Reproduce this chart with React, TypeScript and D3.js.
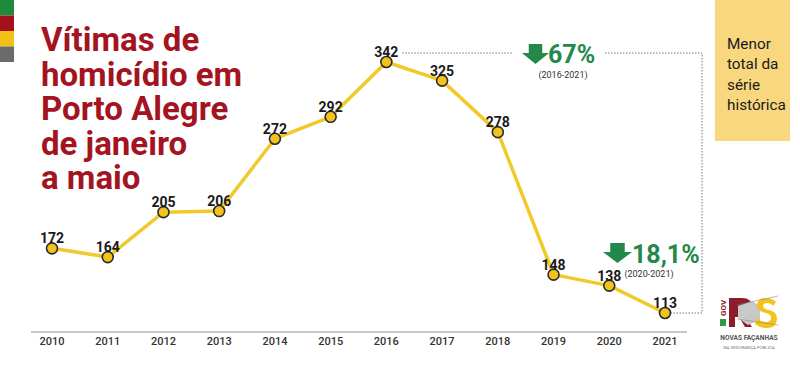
import * as d3 from "d3";

// data
const years = ["2010", "2011", "2012", "2013", "2014", "2015", "2016", "2017", "2018", "2019", "2020", "2021"];
const victims = [172, 164, 205, 206, 272, 292, 342, 325, 278, 148, 138, 113];
const titleLines = ["Vítimas de", "homicídio em", "Porto Alegre", "de janeiro", "a maio"];
const noteLines = ["Menor", "total da", "série", "histórica"];
const flagColors = ["#1d8a3c", "#a3111c", "#f3c014", "#6b6b6b"];

const W = 800;
const H = 368;

const FONT = "Roboto, 'Noto Sans', sans-serif";
const RED = "#a3141f";
const GREEN = "#23894a";
const LINE = "#f1c92a";

// green down arrow
const Arrow = ({ x, y, w, h }: { x: number; y: number; w: number; h: number }) => {
  const sw = w * 0.5;
  const sh = h * 0.45;
  const p = [
    [x + (w - sw) / 2, y],
    [x + (w + sw) / 2, y],
    [x + (w + sw) / 2, y + sh],
    [x + w, y + sh],
    [x + w / 2, y + h],
    [x, y + sh],
    [x + (w - sw) / 2, y + sh],
  ];
  return <path d={"M" + p.map((d) => d.join(",")).join("L") + "Z"} fill={GREEN} />;
};

export default function App() {
  const x = d3
    .scalePoint<string>()
    .domain(years)
    .range([52, 665]);
  const y = d3
    .scaleLinear()
    .domain([113, 342])
    .range([313, 62]);

  const line = d3
    .line<number>()
    .x((d, i) => x(years[i])!)
    .y((d) => y(d));

  const last = years.length - 1;
  const peak = victims.indexOf(d3.max(victims)!);
  const boxX = 702;

  return (
    <svg
      width={W}
      height={H}
      style={{ position: "absolute", left: 0, top: 0, background: "#fff", fontFamily: FONT }}
    >
      <rect width={W} height={H} fill="#fff" />

      {/* flag stripes */}
      {flagColors.map((c, i) => (
        <rect key={c} x={0} y={i * 15.5} width={14} height={15.5} fill={c} />
      ))}

      {/* title */}
      <text fill={RED} fontWeight={700} fontSize={33}>
        {titleLines.map((t, i) => (
          <tspan key={t} x={41} y={51 + i * 34.5}>
            {t}
          </tspan>
        ))}
      </text>

      {/* note box */}
      <rect x={715} y={0} width={75} height={141} fill="#f8d77f" />
      <text fill="#1a1a1a" fontSize={15.3}>
        {noteLines.map((t, i) => (
          <tspan key={t} x={727} y={49 + i * 20.3}>
            {t}
          </tspan>
        ))}
      </text>

      {/* dotted guide from peak to last value */}
      <g fill="none" stroke="#555" strokeWidth={0.8} strokeDasharray="1.5,1.5">
        <line x1={x(years[peak])! + 16} x2={513} y1={y(victims[peak]) - 9} y2={y(victims[peak]) - 9} />
        <path
          d={`M605,${y(victims[peak]) - 9}H${boxX}V${y(victims[last])}H${x(years[last])! + 6}`}
        />
      </g>

      {/* axis */}
      <line x1={31} x2={687} y1={332} y2={332} stroke="#b5b5b5" strokeWidth={1.5} />
      {years.map((yr) => (
        <text
          key={yr}
          x={x(yr)}
          y={345}
          textAnchor="middle"
          fontSize={11}
          fontWeight={500}
          fill="#333"
        >
          {yr}
        </text>
      ))}

      {/* series */}
      <path d={line(victims)!} fill="none" stroke={LINE} strokeWidth={3.5} strokeLinejoin="round" />
      {victims.map((v, i) => (
        <circle
          key={years[i]}
          cx={x(years[i])}
          cy={y(v)}
          r={5.5}
          fill="#f4c21c"
          stroke="#2b2b2b"
          strokeWidth={1.6}
        />
      ))}
      {victims.map((v, i) => (
        <text
          key={"l" + years[i]}
          x={x(years[i])}
          y={y(v) - 5}
          textAnchor="middle"
          fontSize={14}
          fontWeight={700}
          fill="#1a1a1a"
        >
          {v}
        </text>
      ))}

      {/* variation callouts */}
      <Arrow x={522} y={44} w={27} h={20} />
      <text x={548} y={63} fontSize={25} fontWeight={700} fill={GREEN}>
        67%
      </text>
      <text x={563} y={78} fontSize={9} fill="#333" textAnchor="middle">
        (2016-2021)
      </text>

      <Arrow x={603} y={243} w={29} h={20} />
      <text x={632} y={263} fontSize={25} fontWeight={700} fill={GREEN}>
        18,1%
      </text>
      <text x={649} y={277} fontSize={9} fill="#333" textAnchor="middle">
        (2020-2021)
      </text>

      {/* logo */}
      <g>
        <text
          transform="translate(726,316) rotate(-90)"
          fontSize={8}
          fontWeight={700}
          fill="#8c1b2c"
        >
          GOV
        </text>
        <rect x={720} y={319} width={6} height={7} fill="#2d9a48" />
        <path d="M729,298H742Q752,298 752,307Q752,314 745,316L752,327H745L739,317H735V327H729Z" fill="#8c1b2c" />
        <path d="M738,306L752,301L760,306L760,320L748,325L738,318Z" fill="#c9c9c9" />
        <path
          d="M776,302Q772,298 766,298Q757,298 757,306Q757,311 766,313Q771,314 771,318Q771,322 766,322Q761,322 757,318L755,324Q760,328 767,328Q777,328 777,318Q777,312 769,310Q763,309 763,306Q763,303 767,303Q771,303 773,306Z"
          fill="#f3c21b"
        />
        <line x1={737} x2={778} y1={305} y2={296} stroke="#888" strokeWidth={0.6} />
        <line x1={737} x2={778} y1={319} y2={325} stroke="#888" strokeWidth={0.6} />
        <text x={749} y={340} textAnchor="middle" fontSize={6.6} fontWeight={700} fill="#555">
          NOVAS FAÇANHAS
        </text>
        <text x={749} y={349} textAnchor="middle" fontSize={4.4} fill="#777">
          NA SEGURANÇA PÚBLICA
        </text>
      </g>
    </svg>
  );
}
